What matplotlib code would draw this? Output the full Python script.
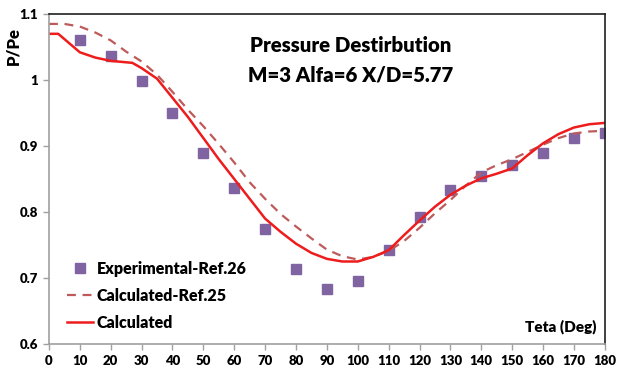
import numpy as np
import matplotlib.pyplot as plt

# Experimental points (Ref. 26)
teta_exp = [10, 20, 30, 40, 50, 60, 70, 80, 90, 100, 110, 120, 130, 140, 150, 160, 170, 180]
p_exp = [1.060, 1.036, 0.998, 0.950, 0.890, 0.836, 0.775, 0.714, 0.684, 0.696,
         0.742, 0.792, 0.834, 0.855, 0.871, 0.889, 0.912, 0.920]

# Calculated (present)
teta_calc = [0, 3, 10, 15, 20, 27, 30, 35, 40, 45, 50, 55, 60, 65, 70, 75, 80, 85, 90,
             95, 100, 105, 110, 115, 120, 125, 130, 135, 140, 145, 150, 155, 160, 165,
             170, 175, 180]
p_calc = [1.070, 1.070, 1.042, 1.034, 1.029, 1.026, 1.018, 1.002, 0.973, 0.944, 0.912,
          0.880, 0.850, 0.820, 0.790, 0.770, 0.752, 0.738, 0.729, 0.725, 0.725, 0.732,
          0.742, 0.765, 0.787, 0.808, 0.826, 0.840, 0.851, 0.858, 0.866, 0.886, 0.904,
          0.918, 0.928, 0.933, 0.935]

# Calculated (Ref. 25)
teta_ref = [0, 5, 10, 15, 20, 25, 30, 35, 40, 45, 50, 55, 60, 65, 70, 75, 80, 85, 90,
            95, 100, 105, 110, 115, 120, 125, 130, 135, 140, 145, 150, 155, 160, 165,
            170, 175, 180]
p_ref = [1.085, 1.085, 1.081, 1.072, 1.060, 1.043, 1.028, 1.008, 0.982, 0.955, 0.930,
         0.903, 0.875, 0.845, 0.820, 0.797, 0.778, 0.760, 0.743, 0.733, 0.728, 0.732,
         0.741, 0.756, 0.776, 0.798, 0.818, 0.840, 0.860, 0.871, 0.880, 0.891, 0.902,
         0.912, 0.919, 0.922, 0.923]

plt.rcParams['font.family'] = ['Lato', 'DejaVu Sans']
plt.rcParams['font.weight'] = 'bold'

fig = plt.figure(figsize=(6.28, 3.72), dpi=100)
ax = fig.add_axes([0.078, 0.0753, 0.885, 0.887])

ax.plot(teta_exp, p_exp, 's', color='#8064A2', markersize=6.5, label='Experimental-Ref.26')
ax.plot(teta_ref, p_ref, '--', color='#BE5A5A', linewidth=1.6, dashes=(4, 3),
        label='Calculated-Ref.25')
ax.plot(teta_calc, p_calc, '-', color='#EE1C1C', linewidth=1.8, label='Calculated')

ax.set_xlim(0, 180)
ax.set_ylim(0.6, 1.1)
ax.set_xticks(np.arange(0, 181, 10))
ax.set_yticks([0.6, 0.7, 0.8, 0.9, 1.0, 1.1])
ax.set_yticklabels(['0.6', '0.7', '0.8', '0.9', '1', '1.1'])
ax.tick_params(axis='both', labelsize=9.5, color='#A0A0A0', length=4, width=1,
               direction='out', pad=4)
for lab in ax.get_xticklabels() + ax.get_yticklabels():
    lab.set_fontweight('heavy')

for side in ['left', 'bottom']:
    ax.spines[side].set_color('#A0A0A0')
    ax.spines[side].set_linewidth(1.2)
for side in ['top', 'right']:
    ax.spines[side].set_color('#202020')
    ax.spines[side].set_linewidth(1.2)

ax.text(0.543, 0.905, 'Pressure Destirbution', transform=ax.transAxes,
        ha='center', va='center', fontsize=14.7, fontweight='heavy')
ax.text(0.543, 0.815, 'M=3 Alfa=6 X/D=5.77', transform=ax.transAxes,
        ha='center', va='center', fontsize=14.7, fontweight='heavy')

fig.text(0.022, 0.875, 'P/Pe', rotation=90, ha='center', va='center',
         fontsize=12, fontweight='heavy')
ax.text(0.985, 0.052, 'Teta (Deg)', transform=ax.transAxes, ha='right', va='center',
        fontsize=11, fontweight='heavy')

leg = ax.legend(loc='lower left', bbox_to_anchor=(0.007, -0.004), frameon=False,
                prop={'size': 11.5, 'weight': 'heavy'}, handlelength=1.6,
                handletextpad=0.25, labelspacing=0.7)

fig.savefig('out.png', dpi=100)
